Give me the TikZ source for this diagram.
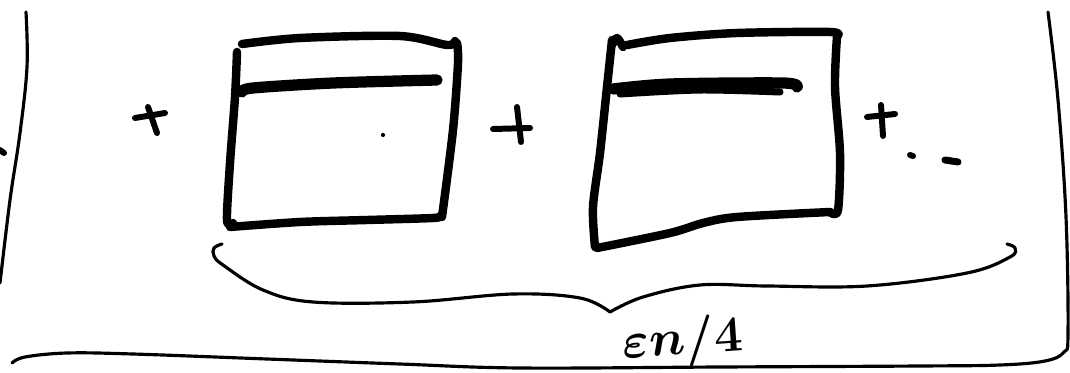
\documentclass[tikz,border=0pt]{standalone}
\usepackage{bm}
\begin{document}
\tikzset{
  thinsk/.style={line width=0.9pt, line cap=round, line join=round},
  boxline/.style={line width=2.4pt, line cap=round, line join=round},
  barline/.style={line width=3.2pt, line cap=round, line join=round},
  plusline/.style={line width=1.7pt, line cap=round},
  labeltext/.style={inner sep=0pt, font=\fontsize{15}{17}\selectfont},
}
\begin{tikzpicture}[x=0.01cm, y=-0.01cm]
\useasboundingbox (0,0) rectangle (1070,373);
% outer frame strokes
\draw[thinsk] plot[smooth, tension=0.6] coordinates {(26,12) (27,67) (20,133) (10,200) (0,283)};
\draw[thinsk] plot[smooth, tension=0.6] coordinates {(1048,12) (1058,100) (1066,217) (1068,333) (1064,352) (1045,361) (1000,365) (920,366) (720,367) (520,368) (400,364) (267,359) (133,354) (67,353) (25,357) (12,363)};
\draw[plusline] (0,150) -- (4,153);
% left plus
\draw[plusline] (135,118) -- (165,113);
\draw[plusline] (148,107) -- (157,133);
% box 1
\draw[boxline] plot[smooth] coordinates {(242,44) (300,38) (400,36) (447,45) (455,41)};
\draw[boxline] plot[smooth] coordinates {(457,43) (458,63) (453,130) (442,217)};
\draw[boxline] plot[smooth] coordinates {(237,52) (235,97) (230,163) (227,220) (233,223)};
\draw[boxline] plot[smooth] coordinates {(230,227) (300,222) (367,220) (433,218) (440,216)};
\draw[barline] plot[smooth] coordinates {(242,92) (253,88) (333,83) (437,80)};
\fill (383,135) circle[radius=0.6pt];
% middle plus
\draw[plusline] (493,129) -- (530,128);
\draw[plusline] (517,107) -- (521,142);
% box 2
\draw[boxline] plot[smooth] coordinates {(612,45) (617,38) (623,47)};
\draw[boxline] plot[smooth] coordinates {(627,45) (670,38) (737,33) (830,32) (837,36)};
\draw[boxline] plot[smooth] coordinates {(837,36) (835,87) (840,153) (838,210) (830,212)};
\draw[boxline] plot[smooth] coordinates {(830,212) (737,217) (703,223) (670,233) (597,248)};
\draw[boxline] plot[smooth] coordinates {(612,40) (607,87) (600,153) (593,207) (595,247)};
\draw[barline] plot[smooth] coordinates {(613,89) (670,84) (783,83) (797,87)};
\draw[line width=2pt, line cap=round] plot[smooth] coordinates {(620,94) (700,90) (780,92)};
% right plus and dots
\draw[plusline] (867,117) -- (895,114);
\draw[plusline] (881,105) -- (883,136);
\draw[plusline] (910,155) -- (913,156);
\draw[line width=2pt, line cap=round] (945,160) -- (958,162);
% brace
\draw[thinsk] plot[smooth, tension=0.6] coordinates {(222,244) (214,248) (214,256) (223,265) (263,290) (313,302) (413,302) (513,294) (580,298) (610,312)};
\draw[thinsk] plot[smooth, tension=0.6] coordinates {(610,312) (643,297) (700,285) (767,286) (867,286) (967,273) (1010,257) (1015,248) (1007,244)};
\node[labeltext, rotate=4] (label) at (683,342) {$\bm{\varepsilon n/4}$};
\end{tikzpicture}
\end{document}
